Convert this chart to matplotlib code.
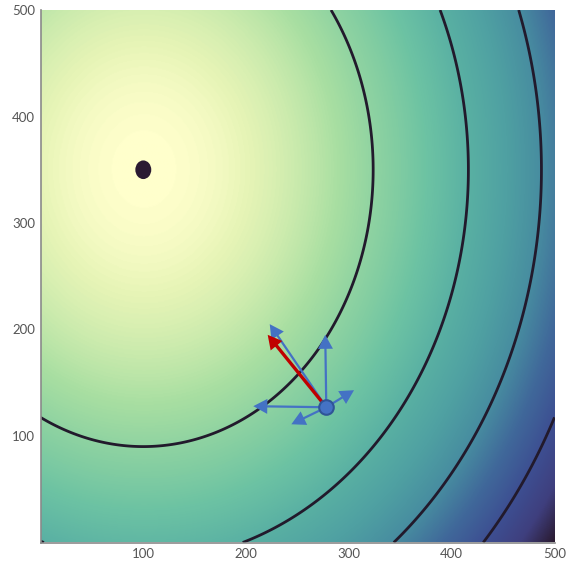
import numpy as np
import matplotlib
matplotlib.use("Agg")
import matplotlib.pyplot as plt
from matplotlib.colors import LinearSegmentedColormap
from matplotlib.patches import Ellipse, Polygon

# ---- data ----
minimum = [100, 350]          # location of the minimum (dark dot)
y_weight = 0.74               # anisotropy of the quadratic bowl
contour_levels = [50000, 100000, 150000, 200000]
start_point = [278, 127]      # current position (blue circle)
gradient_tip = [221, 195]     # red arrow tip (negative gradient)
random_tips_x = [223, 277, 207, 305, 244]   # blue arrow tips
random_tips_y = [205, 195, 128, 143, 111]
x_ticks = [100, 200, 300, 400, 500]
y_ticks = [100, 200, 300, 400, 500]
x_range = [0, 500]
y_range = [0, 500]

# ---- colormap ----
cmap_pos = [0.00, 0.04, 0.14, 0.20, 0.30, 0.40, 0.50, 0.60, 0.70, 0.80, 0.90, 1.00]
cmap_col = ["#FFFFCC", "#E6F4B6", "#A9DFA2", "#8FD3A1", "#6DC3A3", "#59B0A3",
            "#4FA0A2", "#478CA0", "#40689A", "#3D4F92", "#3F3F7E", "#2A1A30"]
cmap = LinearSegmentedColormap.from_list("bowl", list(zip(cmap_pos, cmap_col)))

xs = np.linspace(x_range[0], x_range[1], 501)
ys = np.linspace(y_range[0], y_range[1], 501)
X, Y = np.meshgrid(xs, ys)
F = (X - minimum[0]) ** 2 + y_weight * (Y - minimum[1]) ** 2

fig = plt.figure(figsize=(5.73, 5.61), dpi=100)
ax = fig.add_axes([40.5 / 573, 18.5 / 561, 514 / 573, 532.5 / 561])

ax.imshow(F, extent=[x_range[0], x_range[1], y_range[0], y_range[1]], origin="lower",
          cmap=cmap, aspect="auto", vmin=0, vmax=F.max(), interpolation="bilinear")
ax.contour(X, Y, F, levels=contour_levels, colors="#221A2C", linewidths=2.0)

ax.set_xlim(x_range)
ax.set_ylim(y_range)

# minimum dot
ax.add_patch(Ellipse(minimum, width=15.5, height=17.5, facecolor="#2A1A32",
                     edgecolor="none", zorder=5))

blue = "#4472C4"
red = "#C00000"


def draw_arrow(start, tip, color, lw, head_len=14.0, head_w=15.0, z=6):
    tr = ax.transData
    inv = tr.inverted()
    s = tr.transform(start)
    t = tr.transform(tip)
    d = t - s
    n = d / np.hypot(*d)
    perp = np.array([-n[1], n[0]])
    base = t - n * head_len
    tri = np.array([t, base + perp * head_w / 2, base - perp * head_w / 2])
    line_end = base + n * 1.0
    s_d, e_d = inv.transform(s), inv.transform(line_end)
    ax.plot([s_d[0], e_d[0]], [s_d[1], e_d[1]], color=color, lw=lw,
            solid_capstyle="butt", zorder=z)
    ax.add_patch(Polygon(inv.transform(tri), closed=True, facecolor=color,
                         edgecolor="none", zorder=z))


for tx, ty in zip(random_tips_x, random_tips_y):
    draw_arrow(start_point, (tx, ty), blue, 1.6)
draw_arrow(start_point, gradient_tip, red, 2.4, z=7)
ax.plot([start_point[0]], [start_point[1]], "o", ms=10.5, mfc=blue, mec="#2F5597",
        mew=1.5, zorder=8)

ax.set_xticks(x_ticks)
ax.set_yticks(y_ticks)
ax.tick_params(length=0, labelsize=9.5, labelcolor="#555555", pad=4)
for lab in ax.get_xticklabels() + ax.get_yticklabels():
    lab.set_fontfamily("Lato")
for s in ["top", "right"]:
    ax.spines[s].set_visible(False)
for s in ["left", "bottom"]:
    ax.spines[s].set_color("#8A8A8A")
    ax.spines[s].set_linewidth(1.2)

fig.savefig("out.png", dpi=100)
